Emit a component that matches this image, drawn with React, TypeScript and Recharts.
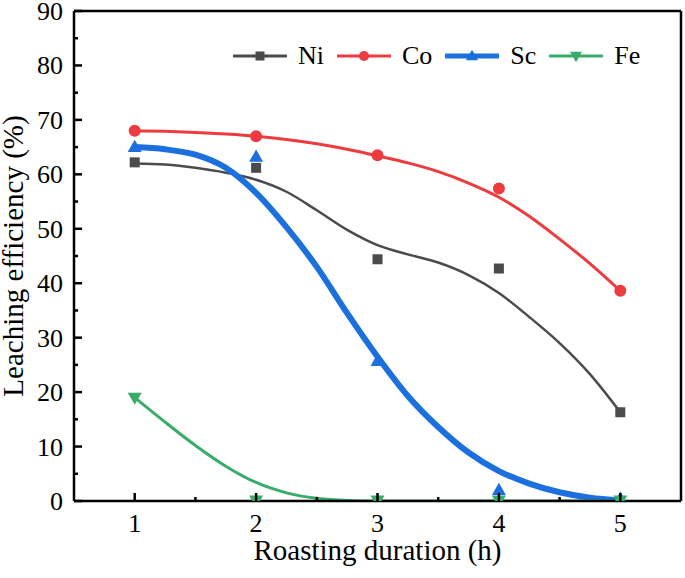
import React from "react";
import { ComposedChart, Line, Scatter, XAxis, YAxis, Legend, Label } from "recharts";

// measured leaching efficiency (%) at each roasting duration (h)
const durations = [1, 2, 3, 4, 5];
const niMeasured = [62.2, 61.2, 44.4, 42.7, 16.3];
const coMeasured = [68.0, 67.0, 63.5, 57.4, 38.6];
const scMeasured = [65.0, 63.2, 25.7, 2.0, 0.4];
const feMeasured = [19.0, 0.1, 0.1, 0.1, 0.1];

// fitted curves
const fitDurations = [1, 1.25, 1.5, 1.75, 2, 2.25, 2.5, 2.75, 3, 3.25, 3.5, 3.75, 4, 4.25, 4.5, 4.75, 5];
const niFit = [62.0, 61.8, 61.2, 60.3, 59.0, 56.8, 53.4, 49.8, 47.0, 45.3, 43.8, 41.5, 38.2, 33.8, 29.0, 23.3, 16.3];
const coFit = [68.0, 67.9, 67.7, 67.4, 67.0, 66.4, 65.6, 64.6, 63.4, 62.1, 60.5, 58.4, 55.8, 52.3, 48.1, 43.6, 38.6];
const scFit = [65.0, 64.6, 63.6, 61.2, 56.6, 50.3, 43.0, 34.5, 26.5, 19.3, 13.6, 8.9, 5.5, 3.2, 1.6, 0.6, 0.1];
const feFit = [19.0, 14.5, 10.2, 6.4, 3.4, 1.5, 0.5, 0.1, 0, 0, 0, 0, 0, 0, 0, 0, 0];

const xTicks = [1, 1.5, 2, 2.5, 3, 3.5, 4, 4.5, 5];
const yTicks = [0, 5, 10, 15, 20, 25, 30, 35, 40, 45, 50, 55, 60, 65, 70, 75, 80, 85, 90];

const FONT = "'Liberation Serif', 'Times New Roman', serif";

const NI = "#4b4b4b";
const CO = "#ee3b3f";
const SC = "#1b6fde";
const FE = "#3aac6a";

const toPoints = (xs: number[], ys: number[]) => xs.map((x, i) => ({ x, y: ys[i] }));

function XTick({ x, y, payload }: any) {
  const major = Number.isInteger(payload.value);
  return (
    <g>
      <line x1={x} x2={x} y1={y} y2={y - (major ? 8 : 4)} stroke="#000" strokeWidth={2.5} />
      {major && (
        <text x={x} y={y + 31} textAnchor="middle" fontSize={26} fontFamily={FONT} fill="#000">
          {payload.value}
        </text>
      )}
    </g>
  );
}

function YTick({ x, y, payload }: any) {
  const major = payload.value % 10 === 0;
  return (
    <g>
      <line x1={x} x2={x + (major ? 8 : 4)} y1={y} y2={y} stroke="#000" strokeWidth={2.5} />
      {major && (
        <text x={x - 11} y={y + 9} textAnchor="end" fontSize={26} fontFamily={FONT} fill="#000">
          {payload.value}
        </text>
      )}
    </g>
  );
}

function Square({ cx, cy, fill, side = 10 }: any) {
  return <rect x={cx - side / 2} y={cy - side / 2} width={side} height={side} fill={fill} />;
}
function Dot({ cx, cy, fill, rad = 6 }: any) {
  return <circle cx={cx} cy={cy} r={rad} fill={fill} />;
}
function TriUp({ cx, cy, fill, s = 14 }: any) {
  const h = s * 0.87;
  return <path d={`M${cx},${cy - h * 0.6}L${cx + s / 2},${cy + h * 0.4}L${cx - s / 2},${cy + h * 0.4}Z`} fill={fill} />;
}
function TriDown({ cx, cy, fill, s = 14 }: any) {
  const h = s * 0.87;
  return <path d={`M${cx},${cy + h * 0.6}L${cx + s / 2},${cy - h * 0.4}L${cx - s / 2},${cy - h * 0.4}Z`} fill={fill} />;
}

const legendItems = [
  { name: "Ni", color: NI, width: 3, marker: (cx: number, cy: number) => <Square cx={cx} cy={cy} fill={NI} side={9} /> },
  { name: "Co", color: CO, width: 3, marker: (cx: number, cy: number) => <Dot cx={cx} cy={cy} fill={CO} rad={5} /> },
  { name: "Sc", color: SC, width: 5, marker: (cx: number, cy: number) => <TriUp cx={cx} cy={cy} fill={SC} s={12} /> },
  { name: "Fe", color: FE, width: 3, marker: (cx: number, cy: number) => <TriDown cx={cx} cy={cy} fill={FE} s={12} /> },
];

function ChartLegend() {
  return (
    <div style={{ display: "flex", alignItems: "center", fontFamily: FONT, fontSize: 26, color: "#000" }}>
      {legendItems.map((it, i) => (
        <div key={it.name} style={{ display: "flex", alignItems: "center", marginLeft: i === 0 ? 0 : 13 }}>
          <svg width={54} height={20}>
            <line x1={1} x2={53} y1={10} y2={10} stroke={it.color} strokeWidth={it.width} strokeLinecap="round" />
            {it.marker(27, 10)}
          </svg>
          <span style={{ marginLeft: 11 }}>{it.name}</span>
        </div>
      ))}
    </div>
  );
}

export default function App() {
  return (
    <div style={{ position: "absolute", left: 0, top: 0, background: "#fff" }}>
      <ComposedChart width={685} height={578} margin={{ top: 10, right: 0, bottom: 0, left: 0 }}>
        <XAxis
          type="number"
          dataKey="x"
          domain={[0.5, 5.5]}
          ticks={xTicks}
          interval={0}
          height={77}
          tickSize={0}
          tickMargin={0}
          tickLine={false}
          tick={<XTick />}
          axisLine={{ stroke: "#000", strokeWidth: 2.5 }}
          allowDataOverflow
        >
          <Label
            content={({ viewBox }: any) => (
              <text
                x={viewBox.x + viewBox.width / 2}
                y={viewBox.y + 59}
                textAnchor="middle"
                fontSize={29}
                fontFamily={FONT}
                fill="#000"
              >
                Roasting duration (h)
              </text>
            )}
          />
        </XAxis>
        <XAxis
          xAxisId="top"
          orientation="top"
          type="number"
          domain={[0.5, 5.5]}
          height={1}
          tick={false}
          tickLine={false}
          axisLine={{ stroke: "#000", strokeWidth: 2.5 }}
        />
        <YAxis
          type="number"
          dataKey="y"
          domain={[0, 90]}
          ticks={yTicks}
          interval={0}
          width={74}
          tickSize={0}
          tickMargin={0}
          tickLine={false}
          tick={<YTick />}
          axisLine={{ stroke: "#000", strokeWidth: 2.5 }}
          allowDataOverflow
        >
          <Label
            content={({ viewBox }: any) => {
              const cx = 23;
              const cy = viewBox.y + viewBox.height / 2;
              return (
                <text
                  x={cx}
                  y={cy}
                  transform={`rotate(-90, ${cx}, ${cy})`}
                  textAnchor="middle"
                  fontSize={29}
                  fontFamily={FONT}
                  fill="#000"
                >
                  Leaching efficiency (%)
                </text>
              );
            }}
          />
        </YAxis>
        <YAxis
          yAxisId="right"
          orientation="right"
          type="number"
          domain={[0, 90]}
          width={4}
          tick={false}
          tickLine={false}
          axisLine={{ stroke: "#000", strokeWidth: 2.5 }}
        />

        <Line data={toPoints(fitDurations, niFit)} dataKey="y" type="monotone" stroke={NI} strokeWidth={2.5} dot={false} isAnimationActive={false} legendType="none" />
        <Line data={toPoints(fitDurations, coFit)} dataKey="y" type="monotone" stroke={CO} strokeWidth={3} dot={false} isAnimationActive={false} legendType="none" />
        <Line data={toPoints(fitDurations, scFit)} dataKey="y" type="monotone" stroke={SC} strokeWidth={6} dot={false} isAnimationActive={false} legendType="none" />
        <Line data={toPoints(fitDurations, feFit)} dataKey="y" type="monotone" stroke={FE} strokeWidth={3} dot={false} isAnimationActive={false} legendType="none" />

        <Scatter data={toPoints(durations, niMeasured)} fill={NI} shape={<Square />} isAnimationActive={false} />
        <Scatter data={toPoints(durations, coMeasured)} fill={CO} shape={<Dot />} isAnimationActive={false} />
        <Scatter data={toPoints(durations, scMeasured)} fill={SC} shape={<TriUp />} isAnimationActive={false} />
        <Scatter data={toPoints(durations, feMeasured)} fill={FE} shape={<TriDown />} isAnimationActive={false} />

        <Legend
          layout="horizontal"
          verticalAlign="middle"
          align="center"
          content={<ChartLegend />}
          wrapperStyle={{ left: 233, top: 41, width: "auto" }}
        />
      </ComposedChart>
    </div>
  );
}
